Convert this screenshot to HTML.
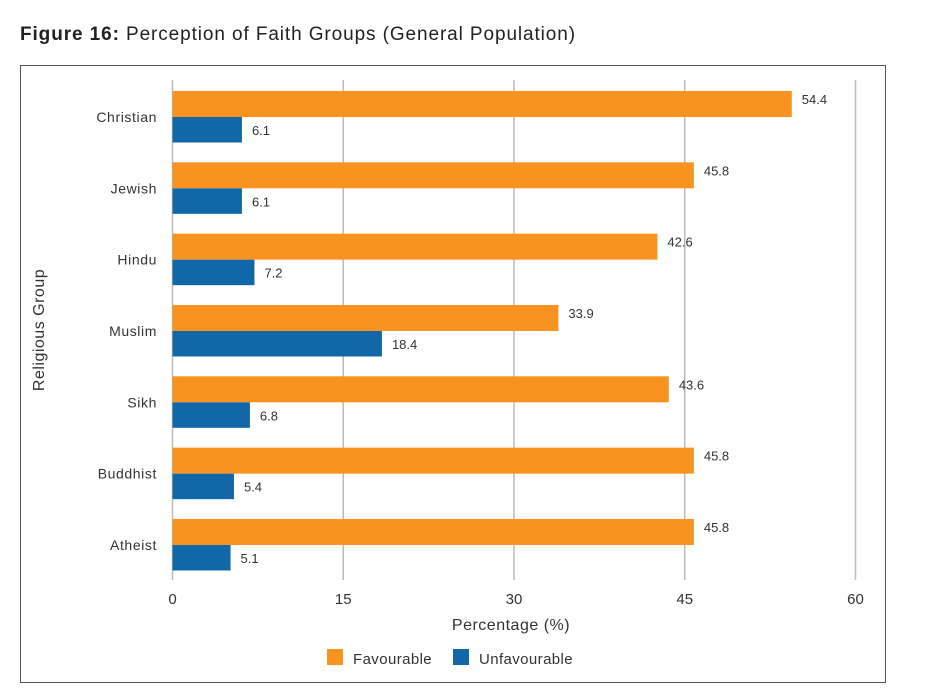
<!DOCTYPE html>
<html><head><meta charset="utf-8">
<style>
body{margin:0;background:#fff;width:929px;height:695px;overflow:hidden;font-family:"Liberation Sans",sans-serif;}
</style></head>
<body>
<svg width="929" height="695" style="position:absolute;left:0;top:0">
<text x="20" y="40" font-size="19" fill="#222" letter-spacing="0.9"><tspan font-weight="bold">Figure 16:</tspan> Perception of Faith Groups (General Population)</text>
<rect x="20.5" y="65.5" width="865" height="617" fill="none" stroke="#555" stroke-width="1"/>
<g id="grid"></g>
<g id="bars"></g>
<text x="511" y="630" font-size="16" fill="#333" letter-spacing="0.5" text-anchor="middle">Percentage (%)</text>
<text transform="translate(44,330) rotate(-90)" font-size="16" fill="#333" letter-spacing="0.5" text-anchor="middle">Religious Group</text>
<g>
<rect x="327" y="649" width="16" height="16" fill="#F7931E"/>
<text x="353" y="664" font-size="15" fill="#333" letter-spacing="0.4">Favourable</text>
<rect x="453" y="649" width="16" height="16" fill="#1167A8"/>
<text x="479" y="664" font-size="15" fill="#333" letter-spacing="0.4">Unfavourable</text>
</g>
</svg>
<script>
const categories=["Christian","Jewish","Hindu","Muslim","Sikh","Buddhist","Atheist"];
const favourable=[54.4,45.8,42.6,33.9,43.6,45.8,45.8];
const unfavourable=[6.1,6.1,7.2,18.4,6.8,5.4,5.1];
const ticks=[0,15,30,45,60];
const NS="http://www.w3.org/2000/svg";
const x0=172.5,x1=855.5,xmax=60;
function xs(v){return x0+(x1-x0)*v/xmax;}
function yc(i){return 117+i*71.33;}
function mk(tag,attrs,parent){const e=document.createElementNS(NS,tag);for(const k in attrs)e.setAttribute(k,attrs[k]);parent.appendChild(e);return e;}
const grid=document.getElementById('grid'),bars=document.getElementById('bars');
ticks.forEach(t=>{
 const l=mk('line',{x1:xs(t),x2:xs(t),y1:80,y2:580,stroke:'#bbb','stroke-width':1.5},grid);
 
 
 const tx=mk('text',{x:xs(t),y:604,'font-size':15,fill:'#333','text-anchor':'middle'},grid);
 tx.textContent=t;
 
 
});
categories.forEach((c,i)=>{
 const y=yc(i);
 const lab=mk('text',{x:157,y:y+5,'font-size':14,fill:'#333','text-anchor':'end','letter-spacing':0.6},bars);
 lab.textContent=c;
 
 
 const b1=mk('rect',{x:x0,y:y-26,width:xs(favourable[i])-x0,height:26,fill:'#F7931E'},bars);
 
 
 const b2=mk('rect',{x:x0,y:y,width:xs(unfavourable[i])-x0,height:25.5,fill:'#1167A8'},bars);
 
 
 const v1=mk('text',{x:xs(favourable[i])+10,y:y-13,'font-size':13,fill:'#333'},bars);
 v1.textContent=favourable[i].toFixed(1);
 
 
 const v2=mk('text',{x:xs(unfavourable[i])+10,y:y+18,'font-size':13,fill:'#333'},bars);
 v2.textContent=unfavourable[i].toFixed(1);
 
 
});
</script>
</body></html>
